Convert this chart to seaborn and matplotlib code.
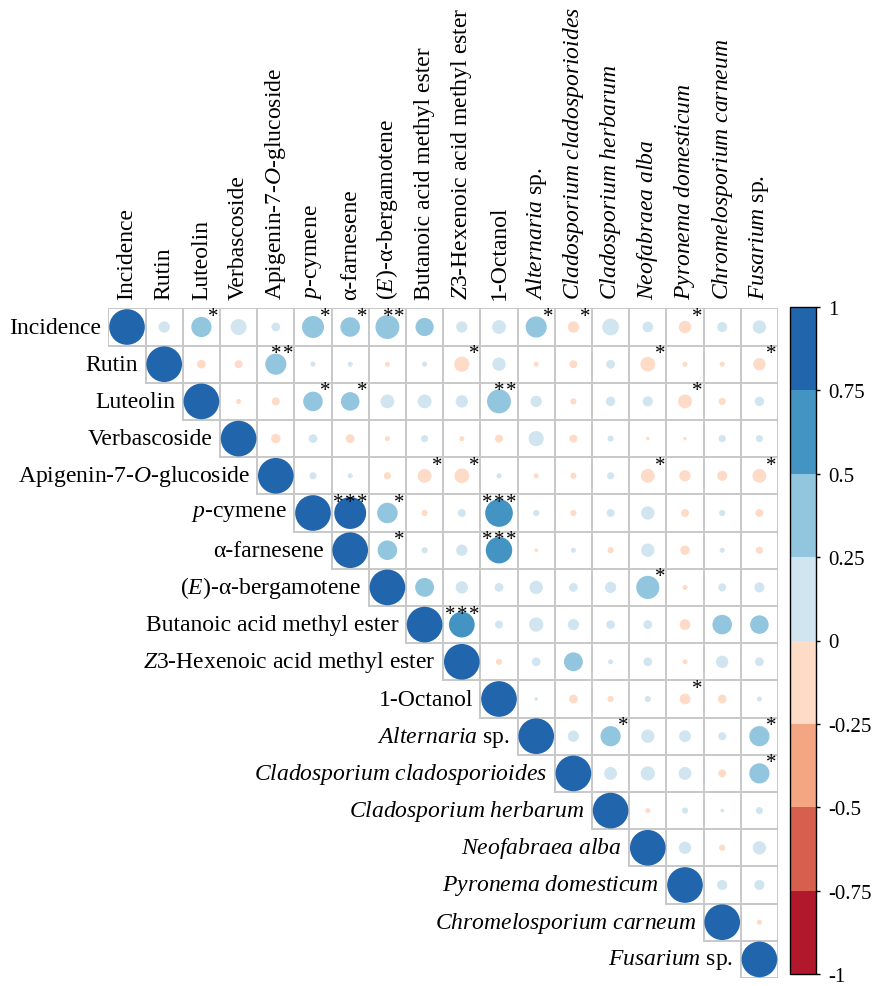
import matplotlib
matplotlib.use('Agg')
import matplotlib.pyplot as plt
import matplotlib.colors as mcolors
import seaborn as sns
import pandas as pd
import numpy as np

# variable names (row / column labels)
labels = ['Incidence', 'Rutin', 'Luteolin', 'Verbascoside',
          r'Apigenin-7-$\mathit{O}$-glucoside', r'$\mathit{p}$-cymene', 'α-farnesene',
          r'($\mathit{E}$)-α-bergamotene', 'Butanoic acid methyl ester',
          r'$\mathit{Z}$3-Hexenoic acid methyl ester', '1-Octanol',
          r'$\mathit{Alternaria}$ sp.', r'$\mathit{Cladosporium\ cladosporioides}$',
          r'$\mathit{Cladosporium\ herbarum}$', r'$\mathit{Neofabraea\ alba}$',
          r'$\mathit{Pyronema\ domesticum}$', r'$\mathit{Chromelosporium\ carneum}$',
          r'$\mathit{Fusarium}$ sp.']

# upper triangle correlations, row i holds columns i+1 .. 17
r_incidence = [0.10, 0.32, 0.20, 0.06, 0.38, 0.30, 0.45, 0.26, 0.10, 0.15, 0.35, -0.10, 0.22, 0.09, -0.12, 0.08, 0.14]
r_rutin = [-0.06, -0.05, 0.35, 0.02, 0.02, -0.02, 0.02, -0.18, 0.14, -0.02, -0.05, 0.06, -0.17, -0.02, -0.02, -0.12]
r_luteolin = [-0.02, -0.05, 0.30, 0.27, 0.15, 0.15, 0.12, 0.45, 0.10, -0.03, 0.07, 0.08, -0.15, -0.04, 0.07]
r_verbascoside = [-0.07, 0.06, -0.06, -0.02, 0.04, -0.02, -0.05, 0.18, -0.05, 0.03, -0.01, -0.01, 0.04, 0.04]
r_apigenin = [0.04, 0.02, -0.04, -0.15, -0.17, 0.02, -0.02, -0.03, 0.04, -0.15, -0.10, -0.08, -0.15]
r_pcymene = [0.80, 0.33, -0.03, 0.05, 0.60, 0.03, -0.03, 0.05, 0.14, -0.05, 0.03, -0.05]
r_farnesene = [0.30, 0.03, 0.10, 0.55, -0.01, 0.02, -0.03, 0.14, -0.07, 0.02, -0.04]
r_bergamotene = [0.28, 0.12, 0.06, 0.14, 0.06, 0.10, 0.42, -0.02, 0.05, 0.08]
r_butanoic = [0.52, 0.05, 0.16, 0.10, 0.06, 0.06, -0.09, 0.30, 0.27]
r_hexenoic = [-0.03, 0.06, 0.28, 0.02, 0.06, -0.02, 0.12, 0.06]
r_octanol = [0.01, -0.06, -0.03, 0.03, -0.09, -0.06, 0.02]
r_alternaria = [0.10, 0.32, 0.14, 0.11, 0.05, 0.32]
r_cladclad = [0.13, 0.16, 0.13, -0.05, 0.32]
r_cladherb = [-0.02, 0.03, 0.01, 0.04]
r_neofabraea = [0.12, -0.03, 0.14]
r_pyronema = [0.08, 0.08]
r_chromelo = [-0.02]

upper_rows = [r_incidence, r_rutin, r_luteolin, r_verbascoside, r_apigenin, r_pcymene,
              r_farnesene, r_bergamotene, r_butanoic, r_hexenoic, r_octanol, r_alternaria,
              r_cladclad, r_cladherb, r_neofabraea, r_pyronema, r_chromelo, []]

# significance stars: (row, col, stars)
sig = [(0, 2, '*'), (0, 5, '*'), (0, 6, '*'), (0, 7, '**'), (0, 11, '*'), (0, 12, '*'), (0, 15, '*'),
       (1, 4, '**'), (1, 9, '*'), (1, 14, '*'), (1, 17, '*'),
       (2, 5, '*'), (2, 6, '*'), (2, 10, '**'), (2, 15, '*'),
       (4, 8, '*'), (4, 9, '*'), (4, 14, '*'), (4, 17, '*'),
       (5, 6, '***'), (5, 7, '*'), (5, 10, '***'),
       (6, 7, '*'), (6, 10, '***'),
       (7, 14, '*'), (8, 9, '***'), (10, 15, '*'),
       (11, 13, '*'), (11, 17, '*'), (12, 17, '*')]

bounds = [-1, -0.75, -0.5, -0.25, 0, 0.25, 0.5, 0.75, 1]
bin_colors = ['#B2182B', '#D6604D', '#F4A582', '#FDDBC7', '#D1E5F0', '#92C5DE', '#4393C3', '#2166AC']
cbar_ticks = ['1', '0.75', '0.5', '0.25', '0', '-0.25', '-0.5', '-0.75', '-1']

n = len(labels)
recs = []
for i in range(n):
    recs.append((i, i, 1.0))
    for k, v in enumerate(upper_rows[i]):
        recs.append((i, i + 1 + k, v))
df = pd.DataFrame(recs, columns=['row', 'col', 'r'])
df['absr'] = df['r'].abs()
df['bin'] = pd.cut(df['r'], bins=bounds, labels=False, include_lowest=True).astype(int)
palette = {b: c for b, c in enumerate(bin_colors)}

plt.rcParams['font.family'] = 'Liberation Serif'
plt.rcParams['mathtext.fontset'] = 'custom'
plt.rcParams['mathtext.rm'] = 'Liberation Serif'
plt.rcParams['mathtext.it'] = 'Liberation Serif:italic'

fig = plt.figure(figsize=(8.86, 9.87), dpi=100)
ax = fig.add_axes([108.4 / 886, 8 / 987, 669.6 / 886, 669.6 / 987])

# grid of the upper triangle
gc = '#C8C8C8'
for k in range(n + 1):
    ax.plot([max(k - 1, 0) - 0.5, n - 0.5], [k - 0.5, k - 0.5], color=gc, lw=1.4, zorder=1)
    ax.plot([k - 0.5, k - 0.5], [-0.5, min(k, n - 1) + 0.5], color=gc, lw=1.4, zorder=1)

sns.scatterplot(data=df, x='col', y='row', hue='bin', palette=palette, size='absr',
                sizes=(0, 660), size_norm=(0, 1), linewidth=0, legend=False, ax=ax, zorder=2)

for (i, j, s) in sig:
    m = len(s)
    for q in range(m):
        ax.text(j + 0.33 - (m - 1 - q) * 0.32, i - 0.28, '*', fontsize=15,
                ha='center', va='center', zorder=3)

for i, lab in enumerate(labels):
    ax.text(i - 0.7, i, lab, ha='right', va='center', fontsize=17)
    ax.text(i, -0.75, lab, ha='center', va='bottom', rotation=90, fontsize=17)

ax.set_xlim(-0.5, n - 0.5)
ax.set_ylim(n - 0.5, -0.5)
ax.set_axis_off()

# discrete colour bar
cax = fig.add_axes([790 / 886, 12 / 987, 26 / 886, 667 / 987])
cmap = mcolors.ListedColormap(bin_colors)
norm = mcolors.BoundaryNorm(bounds, cmap.N)
cb = fig.colorbar(plt.cm.ScalarMappable(norm=norm, cmap=cmap), cax=cax, ticks=bounds[::-1])
cb.ax.set_yticklabels(cbar_ticks)
cb.ax.tick_params(labelsize=15, length=3, width=1, pad=6)
cb.outline.set_linewidth(1)

fig.savefig('out.png', dpi=100)
